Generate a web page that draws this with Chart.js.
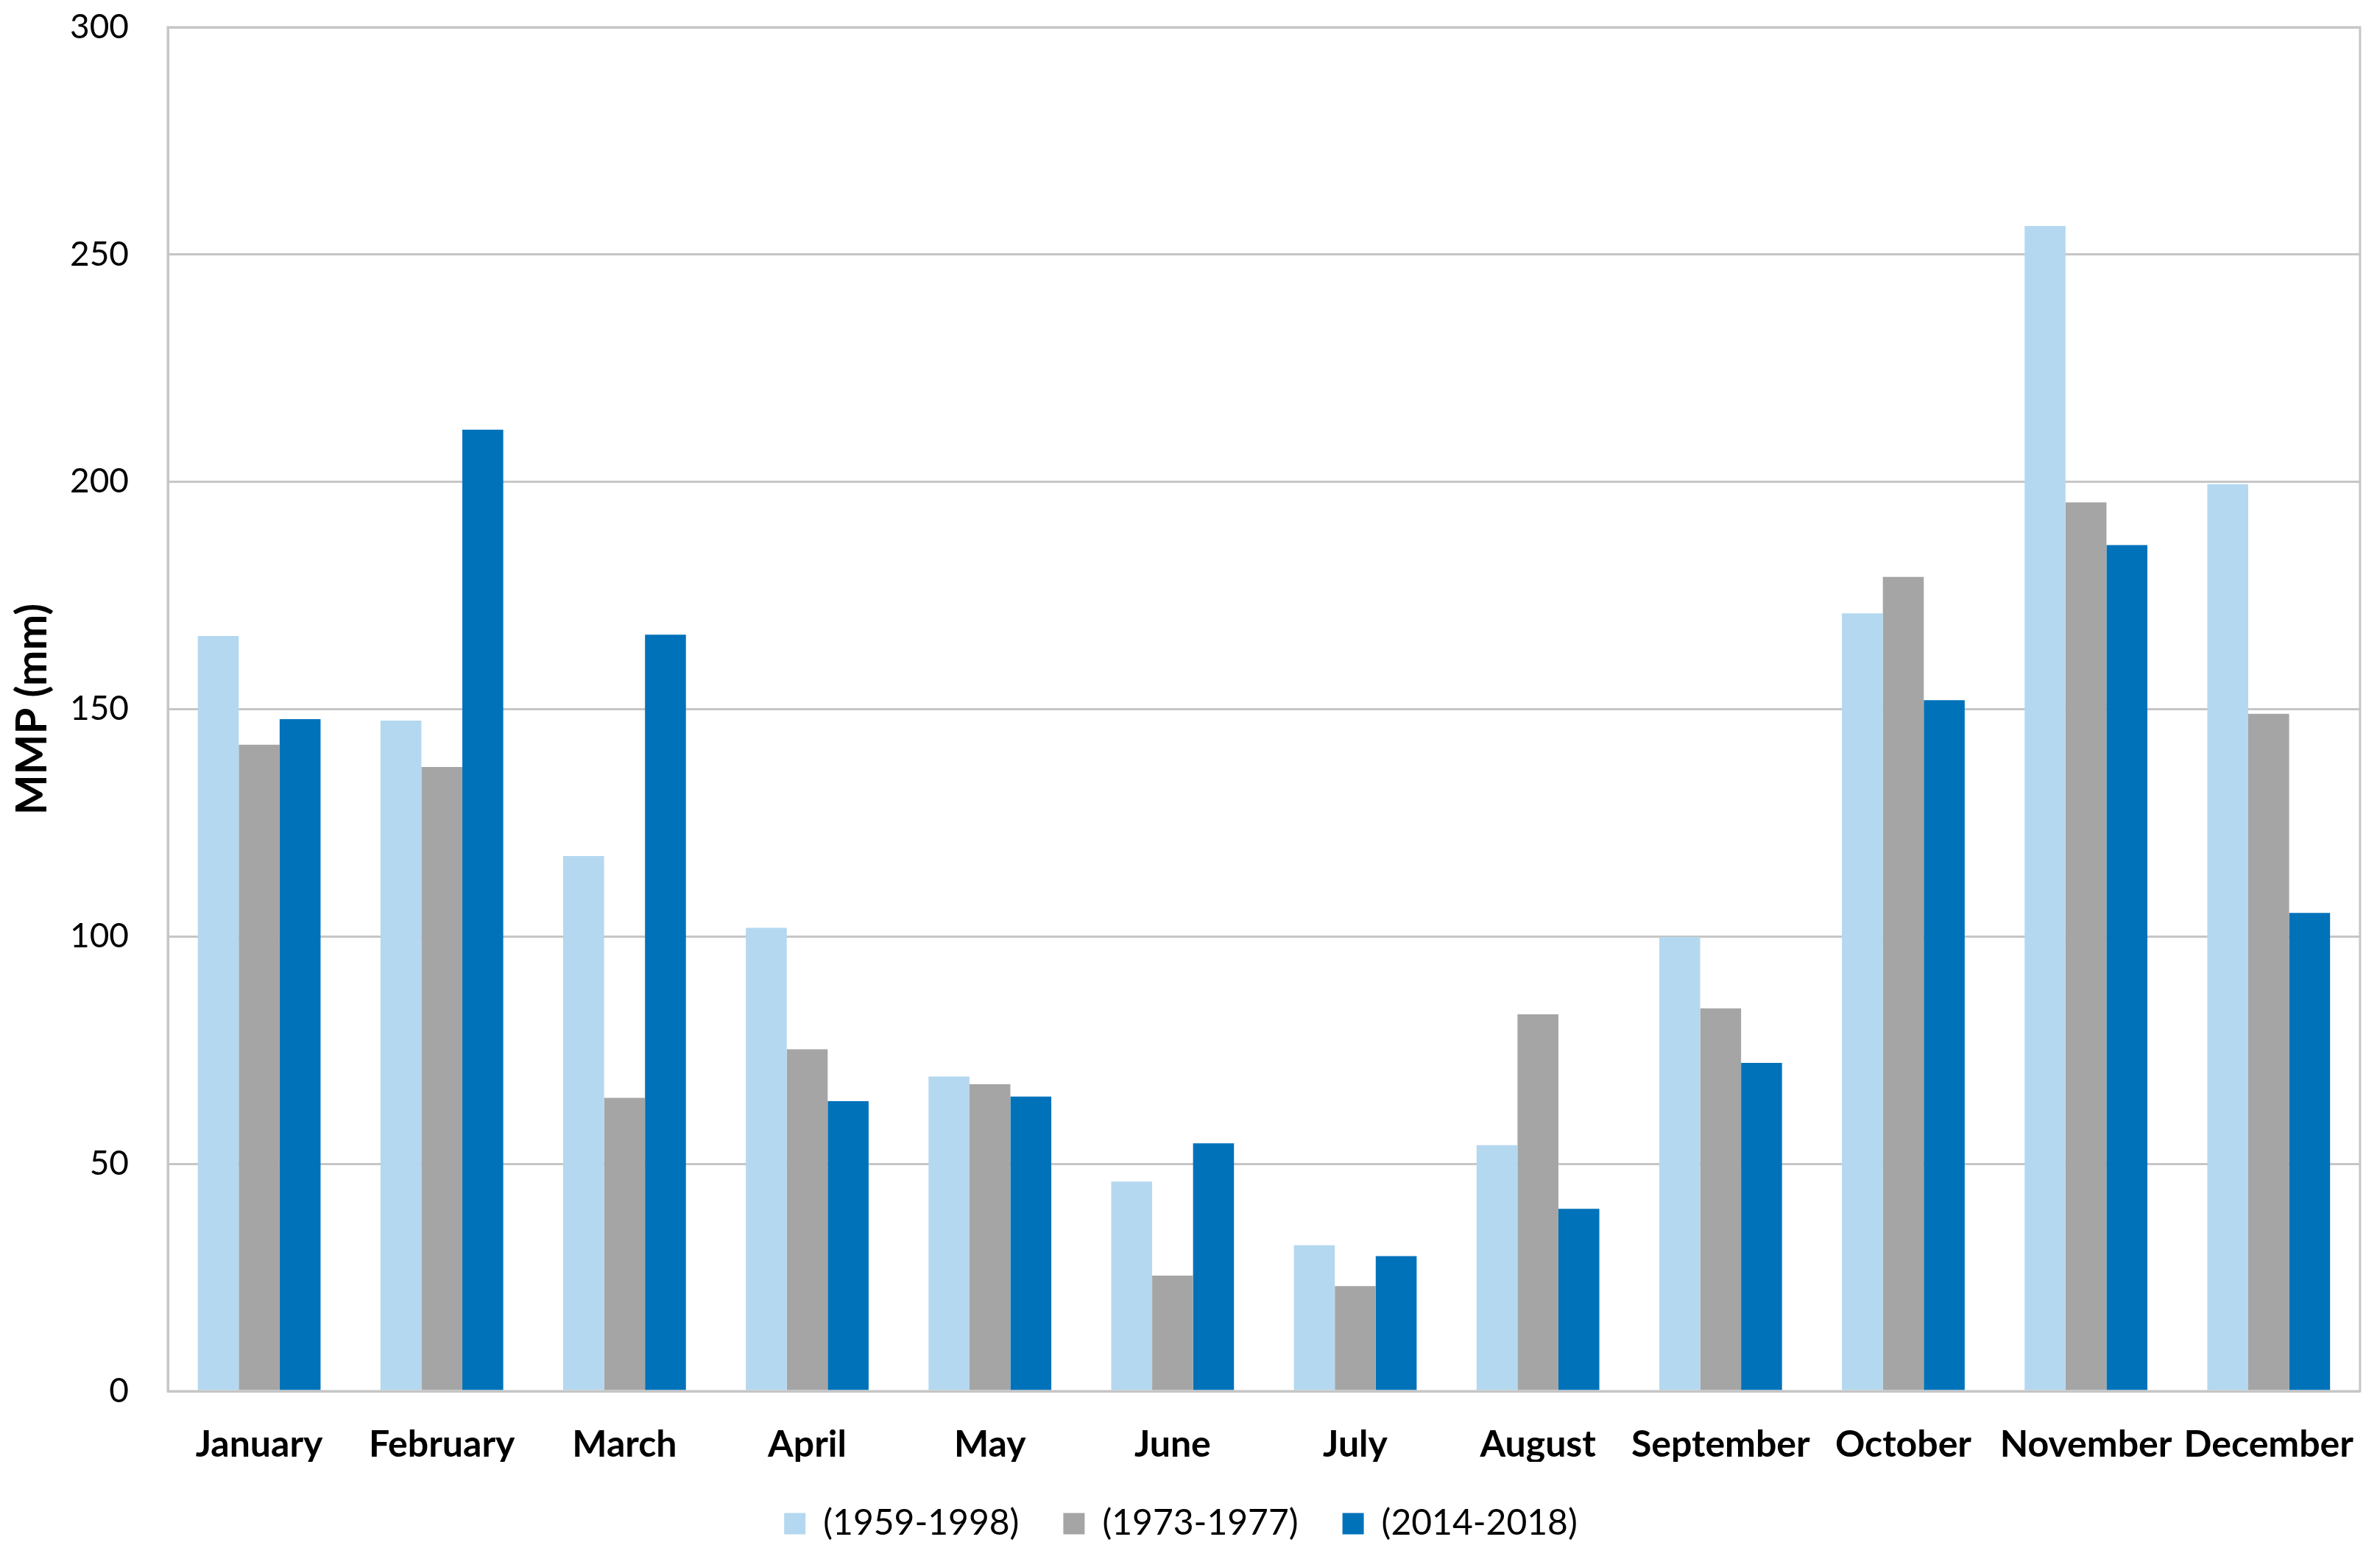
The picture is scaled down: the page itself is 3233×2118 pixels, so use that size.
<!DOCTYPE html>
<html>
<head>
<meta charset="utf-8">
<script src="https://cdn.jsdelivr.net/npm/chart.js@4/dist/chart.umd.min.js"></script>
<style>
  html, body { margin: 0; padding: 0; background: #fff; }
  #wrap { width: 3233px; height: 2118px; }
</style>
</head>
<body>
<div id="wrap"><canvas id="myChart" width="3233" height="2118"></canvas></div>
<script>
const months = ['January', 'February', 'March', 'April', 'May', 'June', 'July',
                'August', 'September', 'October', 'November', 'December'];
const period1 = [166.1, 147.5, 117.7, 101.9, 69.2, 46.1, 32.1, 54.1, 99.9, 171.1, 256.3, 199.5];
const period2 = [142.2, 137.3, 64.5, 75.2, 67.5, 25.4, 23.1, 82.9, 84.2, 179.1, 195.5, 149.0];
const period3 = [147.8, 211.5, 166.4, 63.8, 64.8, 54.5, 29.7, 40.1, 72.2, 152.0, 186.1, 105.2];
const seriesNames = ['(1959-1998)', '(1973-1977)', '(2014-2018)'];
const yTicks = [0, 50, 100, 150, 200, 250, 300];

const FONT = 'Lato, "Open Sans", sans-serif';

// draws the grey frame round the plot area
const frame = {
  id: 'frame',
  afterDraw(chart) {
    const a = chart.chartArea;
    const c = chart.ctx;
    c.save();
    c.strokeStyle = '#c6c6c6';
    c.lineWidth = 3;
    c.strokeRect(a.left, a.top, a.right - a.left, a.bottom - a.top);
    c.restore();
  }
};

const ctx = document.getElementById('myChart').getContext('2d');

const myChart = new Chart(ctx, {
  type: 'bar',
  data: {
    labels: months,
    datasets: [
      { label: seriesNames[0], data: period1, backgroundColor: '#b4d8ef' },
      { label: seriesNames[1], data: period2, backgroundColor: '#a5a5a5' },
      { label: seriesNames[2], data: period3, backgroundColor: '#0072ba' }
    ]
  },
  options: {
    responsive: false,
    animation: false,
    devicePixelRatio: 1,
    layout: { padding: { top: 37, right: 25, left: 0, bottom: 14 } },
    datasets: {
      bar: { categoryPercentage: 0.672, barPercentage: 1.0 }
    },
    plugins: {
      legend: {
        position: 'bottom',
        labels: {
          boxWidth: 29,
          boxHeight: 29,
          padding: 60,
          color: '#000',
          font: { family: FONT, size: 48 }
        }
      },
      tooltip: { enabled: false }
    },
    scales: {
      x: {
        grid: { display: false },
        border: { color: '#c6c6c6', width: 3 },
        ticks: {
          color: '#000',
          padding: 35,
          maxRotation: 0,
          autoSkip: false,
          font: { family: FONT, size: 50, weight: 'bold' }
        },
        afterFit(scale) { scale.height = 96; }
      },
      y: {
        min: 0,
        max: 300,
        afterBuildTicks(scale) { scale.ticks = yTicks.map(v => ({ value: v })); },
        grid: { color: '#c6c6c6', lineWidth: 3, drawTicks: false },
        border: { color: '#c6c6c6', width: 3 },
        ticks: {
          color: '#000',
          padding: 53,
          font: { family: FONT, size: 46 }
        },
        title: {
          display: true,
          text: 'MMP (mm)',
          color: '#000',
          padding: { top: 9, bottom: 0 },
          font: { family: FONT, size: 58, weight: 'bold' }
        },
        afterFit(scale) {
          scale.width = 228;
          scale.paddingTop = 0;
          scale.paddingBottom = 0;
        }
      }
    }
  },
  plugins: [frame]
});
</script>
</body>
</html>
